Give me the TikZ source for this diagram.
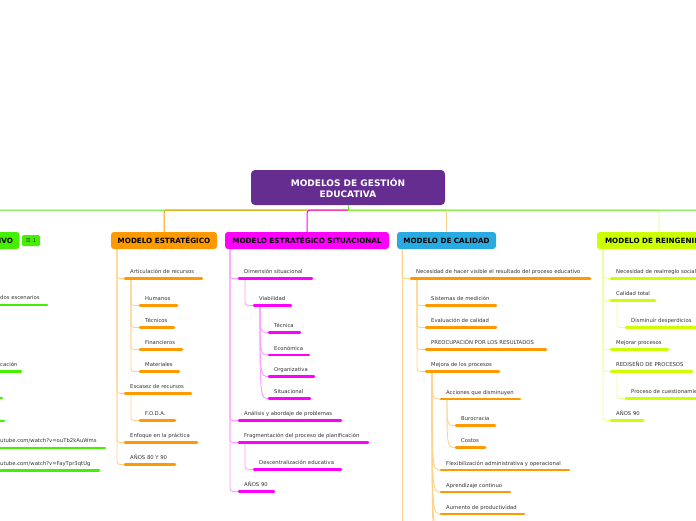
\documentclass[tikz,border=0pt]{standalone}
\usepackage{fontspec}
\setmainfont{DejaVu Sans}
\definecolor{cpurple}{HTML}{662D91}
\definecolor{corange}{HTML}{FF9900}
\definecolor{corangel}{HTML}{FFD28C}
\definecolor{cmag}{HTML}{FF00FF}
\definecolor{cmagl}{HTML}{FF9CFF}
\definecolor{cblue}{HTML}{29ABE2}
\definecolor{clime}{HTML}{CCFF00}
\definecolor{climel}{HTML}{EAFF99}
\definecolor{cgreen}{HTML}{44F000}
\definecolor{cgreenl}{HTML}{55EE11}
\definecolor{ctxt}{HTML}{333333}
\pgfdeclarelayer{bg}
\pgfsetlayers{bg,main}
\tikzset{
  l1box/.style={rounded corners=3pt, minimum height=17pt, inner sep=0pt,
    font=\fontsize{7.2}{8}\selectfont\bfseries, text=black},
  itemtext/.style={anchor=base west, inner sep=0pt,
    font=\fontsize{5.3}{6}\selectfont, text=ctxt},
  uline/.style={line width=2.5pt, line cap=round},
  conn/.style={line width=0.9pt, rounded corners=3pt},
  topl/.style={line width=1pt, rounded corners=3pt},
}
% #1 name, #2 text x, #3 text centre y, #4 underline end x, #5 colour, #6 text
\newcommand\mmitem[6]{%
  \node[itemtext] (#1t) at (#2,#3+1.9) {#6};
  \coordinate (#1) at (#2-5,#3+6.5);
  \coordinate (#1s) at (#2+1,#3+6.5);
  \coordinate (#1x) at (#4,#3+6.5);
  \draw[uline,#5] (#1) -- (#1x);
}
\begin{document}
\begin{tikzpicture}[x=1pt,y=-1pt]
\useasboundingbox (0,0) rectangle (696,520);
\begin{pgfonlayer}{bg}
\fill[white] (0,0) rectangle (696,520);
\end{pgfonlayer}
\clip (0,0) rectangle (696,520);

% root and main branches
\node[fill=cpurple, rounded corners=4pt, minimum width=194pt, minimum height=35pt,
  inner sep=0pt, align=center, text=white,
  font=\fontsize{9}{11}\selectfont\bfseries] (root) at (348,187.5) {MODELOS DE GESTIÓN\\EDUCATIVA};
\node[l1box, fill=cgreen, minimum width=107pt] (pros) at (-34,240.5) {MODELO PROSPECTIVO};
\node[fill=cgreen, rounded corners=1.5pt, minimum width=18pt, minimum height=11pt,
  inner sep=0pt, font=\fontsize{5.5}{6}\selectfont, text=ctxt] (badge) at (31,240.5) {☰ 1};
\node[l1box, fill=corange, minimum width=106pt] (estr) at (164,240.5) {MODELO ESTRATÉGICO};
\node[l1box, fill=cmag, minimum width=164pt] (situ) at (307,240.5) {MODELO ESTRATÉGICO SITUACIONAL};
\node[l1box, fill=cblue, minimum width=99pt] (cali) at (446.5,240.5) {MODELO DE CALIDAD};
\node[l1box, fill=clime, minimum width=124pt] (rein) at (659,240.5) {MODELO DE REINGENIERÍA};
\coordinate (offr) at (770,232);
\coordinate (rj) at (348,210);

\draw[topl, corangel] (rj) -| (cali.north);
\draw[topl, climel] (rj) -| (rein.north);
\draw[topl, cgreenl] (rj) -| (pros.north);
\draw[topl, corange] (rj) -| (estr.north);
\draw[topl, cmag] (rj) -| (situ.north);
\draw[topl, cgreenl] (rj) -| (offr);
\draw[line width=1pt, cgreenl] (root.south) -- (rj);

% left (clipped) column
\node[itemtext] (p1t) at (0,298+1.9) {dos escenarios};
\coordinate (p1) at (-20,305); \coordinate (p1x) at (47,305);
\draw[uline,cgreen] (p1) -- (p1x);
\node[itemtext] (p2t) at (0,365+1.9) {cación};
\coordinate (p2) at (-20,371.5); \coordinate (p2x) at (21,371.5);
\draw[uline,cgreen] (p2) -- (p2x);
\coordinate (p3) at (-20,398); \coordinate (p3x) at (2,398);
\draw[uline,cgreen] (p3) -- (p3x);
\coordinate (p4) at (-20,421); \coordinate (p4x) at (4,421);
\draw[uline,cgreen] (p4) -- (p4x);
\node[itemtext] (p5t) at (0,441+1.9) {utube.com/watch?v=ouTb2kAuWms};
\coordinate (p5) at (-20,448); \coordinate (p5x) at (105,448);
\draw[uline,cgreen] (p5) -- (p5x);
\node[itemtext] (p6t) at (0,463.5+1.9) {utube.com/watch?v=FayTpr3qtUg};
\coordinate (p6) at (-20,470.5); \coordinate (p6x) at (99,470.5);
\draw[uline,cgreen] (p6) -- (p6x);

% MODELO ESTRATEGICO
\mmitem{art}{130}{272}{202}{corange}{Articulación de recursos}
\mmitem{hum}{145}{299}{177}{corange}{Humanos}
\mmitem{tcn}{145}{321}{174}{corange}{Técnicos}
\mmitem{fin}{145}{343}{182}{corange}{Financieros}
\mmitem{mat}{145}{365}{179}{corange}{Materiales}
\mmitem{esc}{130}{387}{191}{corange}{Escasez de recursos}
\mmitem{foda}{145}{414}{175}{corange}{F.O.D.A.}
\mmitem{enf}{130}{436}{197}{corange}{Enfoque en la práctica}
\mmitem{aoe}{130}{458}{175}{corange}{AÑOS 80 Y 90}
\coordinate (estrv) at (117,249);
\begin{pgfonlayer}{bg}
\foreach \c in {art,esc,enf,aoe} \draw[conn,corangel] (estrv) |- (\c);
\foreach \c in {hum,tcn,fin,mat} \draw[conn,corangel] (arts) |- (\c);
\draw[conn,corangel] (escs) |- (foda);
\end{pgfonlayer}

% MODELO ESTRATEGICO SITUACIONAL
\mmitem{dim}{244}{272}{312}{cmag}{Dimensión situacional}
\mmitem{viab}{259}{299}{291}{cmag}{Viabilidad}
\mmitem{tca}{274}{326}{300}{cmag}{Técnica}
\mmitem{eco}{274}{348.5}{309}{cmag}{Económica}
\mmitem{org}{274}{370}{314}{cmag}{Organizativa}
\mmitem{sit}{274}{392}{310}{cmag}{Situacional}
\mmitem{ana}{244}{414}{341}{cmag}{Análisis y abordaje de problemas}
\mmitem{frag}{244}{436}{368}{cmag}{Fragmentación del proceso de planificación}
\mmitem{desc}{259}{463}{341}{cmag}{Descentralización educativa}
\mmitem{ans}{244}{485}{274}{cmag}{AÑOS 90}
\coordinate (situv) at (230,249);
\begin{pgfonlayer}{bg}
\foreach \c in {dim,ana,frag,ans} \draw[conn,cmagl] (situv) |- (\c);
\draw[conn,cmagl] (dims) |- (viab);
\draw[conn,cmagl] (frags) |- (desc);
\foreach \c in {tca,eco,org,sit} \draw[conn,cmagl] (viabs) .. controls (viabs |- \c) .. (\c);
\end{pgfonlayer}

% MODELO DE CALIDAD
\mmitem{nec}{416}{272}{590}{corange}{Necesidad de hacer visible el resultado del proceso educativo}
\mmitem{sis}{431}{299}{496}{corange}{Sistemas de medición}
\mmitem{eva}{431}{321}{496}{corange}{Evaluación de calidad}
\mmitem{pre}{431}{343}{546}{corange}{PREOCUPACIÓN POR LOS RESULTADOS}
\mmitem{mej}{431}{365}{499}{corange}{Mejora de los procesos}
\mmitem{acc}{446}{392.5}{520}{corange}{Acciones que disminuyen}
\mmitem{bur}{461}{419}{495}{corange}{Burocracia}
\mmitem{cos}{461}{441}{485}{corange}{Costos}
\mmitem{flex}{446}{463.5}{569}{corange}{Flexibilización administrativa y operacional}
\mmitem{apr}{446}{485.5}{510}{corange}{Aprendizaje continuo}
\mmitem{aum}{446}{507.5}{524}{corange}{Aumento de productividad}
\coordinate (caliv) at (402,249);
\coordinate (calbot) at (402,545);
\coordinate (mx1) at (441,530);
\coordinate (mx2) at (441,552);
\begin{pgfonlayer}{bg}
\draw[conn,corangel] (caliv) -- (calbot);
\draw[conn,corangel] (caliv) |- (nec);
\foreach \c in {sis,eva,pre,mej} \draw[conn,corangel] (necs) |- (\c);
\foreach \c in {acc,flex,apr,aum,mx1,mx2} \draw[conn,corangel] (mejs) .. controls (mejs |- \c) .. (\c);
\foreach \c in {bur,cos} \draw[conn,corangel] (accs) .. controls (accs |- \c) .. (\c);
\end{pgfonlayer}

% MODELO DE REINGENIERIA
\mmitem{nsr}{616}{272}{702}{clime}{Necesidad de realrreglo social}
\mmitem{ctr}{616}{294}{655}{clime}{Calidad total}
\mmitem{dis}{631}{321}{702}{clime}{Disminuir desperdicios}
\mmitem{mpr}{616}{343}{668}{clime}{Mejorar procesos}
\mmitem{red}{616}{365}{692}{clime}{REDISEÑO DE PROCESOS}
\mmitem{pcu}{631}{392}{702}{clime}{Proceso de cuestionamiento}
\mmitem{anr}{616}{414}{643}{clime}{AÑOS 90}
\coordinate (reinv) at (603,249);
\begin{pgfonlayer}{bg}
\foreach \c in {nsr,ctr,mpr,red,anr} \draw[conn,climel] (reinv) |- (\c);
\draw[conn,climel] (ctrs) |- (dis);
\draw[conn,climel] (reds) |- (pcu);
\end{pgfonlayer}
\end{tikzpicture}
\end{document}
